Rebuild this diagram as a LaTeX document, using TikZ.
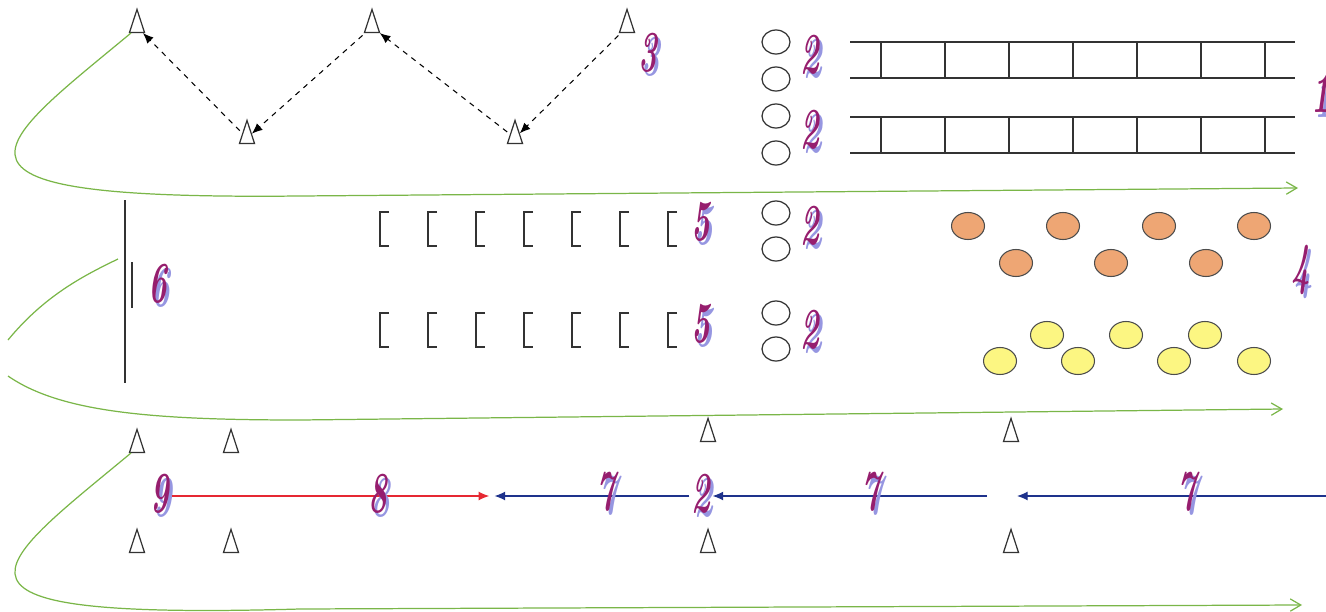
\documentclass[tikz,border=0pt]{standalone}
\usepackage{tikz}
\usepackage{graphicx}
\usetikzlibrary{positioning, shapes.geometric, arrows.meta}

\definecolor{numface}{RGB}{150,30,110}
\definecolor{numshadow}{RGB}{150,150,225}
\definecolor{route}{RGB}{122,182,72}
\definecolor{ballorange}{RGB}{238,166,116}
\definecolor{ballyellow}{RGB}{252,246,130}
\definecolor{passblue}{RGB}{30,50,140}
\definecolor{passred}{RGB}{230,40,50}

\newcommand{\drillnum}[1]{\scalebox{0.55}[1]{\rlap{\hspace{3pt}\raisebox{-2.5pt}{\color{numshadow}#1}}\color{numface}#1}}

\begin{document}
\begin{tikzpicture}[x=0.02cm,y=-0.02cm,
        cone/.style={isosceles triangle,shape border rotate=90,isosceles triangle stretches,draw=black!80,line width=0.7pt,inner sep=0pt,minimum width=0.3cm,minimum height=0.46cm},
        ring/.style={ellipse,draw=black!80,line width=0.7pt,inner sep=0pt,minimum width=0.56cm,minimum height=0.48cm},
        orangeball/.style={ellipse,draw=black!70,fill=ballorange,line width=0.6pt,inner sep=0pt,minimum width=0.66cm,minimum height=0.54cm},
        yellowball/.style={ellipse,draw=black!70,fill=ballyellow,line width=0.6pt,inner sep=0pt,minimum width=0.66cm,minimum height=0.54cm},
        num/.style={inner sep=1pt,font=\fontsize{33}{33}\selectfont\bfseries\itshape},
        runpath/.style={draw=route,line width=0.7pt,-{Straight Barb[length=6pt,width=7pt]}},
        hurdle/.style={draw=black!80,line width=0.6pt},
        ladder/.style={draw=black!80,line width=0.6pt}]
        \useasboundingbox (0,0) rectangle (1326,612);

        % zigzag
        \node[cone] (c1) at (137,27) {};
        \node[cone] (c2) at (247,138) {};
        \node[cone] (c3) at (372,27) {};
        \node[cone] (c4) at (515,138) {};
        \node[cone] (c5) at (627,27) {};
        \node[num] (n3) at (648,55) {\drillnum{3}};

        \path[dashed,-{Latex[length=6pt,width=5pt]},line width=0.6pt]
                  (c5) edge [shorten <=2pt] node []{} (c4)
                  (c4) edge [shorten <=2pt] node []{} (c3)
                  (c3) edge [shorten <=2pt] node []{} (c2)
                  (c2) edge [shorten <=2pt] node []{} (c1);

        % rings and ladders
        \node[ring] (r1) at (776,42) {};
        \node[ring] (r2) at (776,79) {};
        \node[ring] (r3) at (776,116) {};
        \node[ring] (r4) at (776,153) {};
        \node[ring] (r5) at (776,213) {};
        \node[ring] (r6) at (776,249) {};
        \node[ring] (r7) at (776,313) {};
        \node[ring] (r8) at (776,349) {};
        \node[num] (n2a) at (810,57) {\drillnum{2}};
        \node[num] (n2b) at (810,132) {\drillnum{2}};
        \node[num] (n2c) at (810,228) {\drillnum{2}};
        \node[num] (n2d) at (810,332) {\drillnum{2}};

        \foreach \y in {42,117} {
            \draw[ladder] (850,\y) -- (1295,\y) (850,\y+36) -- (1295,\y+36);
            \foreach \x in {881,945,...,1265}
                \draw[ladder] (\x,\y) -- (\x,\y+36);
        }
        \node[num] (n1) at (1321,96) {\drillnum{1}};

        % wall and hurdles
        \draw[line width=0.7pt,black!80] (125,200) -- (125,383);
        \draw[line width=0.7pt,black!80] (132,262) -- (132,308);
        \node[num] (n6) at (158,286) {\drillnum{6}};

        \foreach \y in {212,313}
            \foreach \x in {380,428,...,668}
                \draw[hurdle] (\x+9,\y) -- (\x,\y) -- (\x,\y+34) -- (\x+9,\y+34);
        \node[num] (n5a) at (701,224) {\drillnum{5}};
        \node[num] (n5b) at (701,326) {\drillnum{5}};

        % balls
        \foreach \x [count=\i] in {968,1063,1159,1254}
            \node[orangeball] (o\i) at (\x,226) {};
        \foreach \x [count=\i from 5] in {1016,1111,1206}
            \node[orangeball] (o\i) at (\x,263) {};
        \foreach \x [count=\i] in {1047,1126,1205}
            \node[yellowball] (y\i) at (\x,335) {};
        \foreach \x [count=\i from 4] in {1000,1078,1174,1254}
            \node[yellowball] (y\i) at (\x,361) {};
        \node[num] (n4) at (1301,272) {\drillnum{4}};

        % passing line
        \node[cone] (c6) at (137,447) {};
        \node[cone] (c7) at (231,447) {};
        \node[cone] (c8) at (137,547) {};
        \node[cone] (c9) at (231,547) {};
        \node[cone] (c10) at (708,436) {};
        \node[cone] (c11) at (708,547) {};
        \node[cone] (c12) at (1011,436) {};
        \node[cone] (c13) at (1011,547) {};

        \node[num] (n9) at (160,496) {\drillnum{9}};
        \node[num] (n2e) at (701,496) {\drillnum{2}};
        \coordinate (meet) at (491,496);
        \coordinate (gap) at (987,496);
        \coordinate (far) at (1326,496);
        \coordinate (gapend) at (1017,496);

        \path[-{Latex[length=6pt,width=5pt]},line width=0.6pt]
                  (n9)  edge [draw=passred,shorten >=1pt] node []{} (meet)
                  (n2e) edge [draw=passblue,shorten >=2pt] node []{} (meet)
                  (gap) edge [draw=passblue] node []{} (n2e)
                  (far) edge [draw=passblue] node []{} (gapend);

        \node[num] (n8) at (378,496) {\drillnum{8}};
        \node[num] (n7a) at (606,494) {\drillnum{7}};
        \node[num] (n7b) at (871,494) {\drillnum{7}};
        \node[num] (n7c) at (1187,494) {\drillnum{7}};

        % running routes
        \coordinate (g1) at (1298,188);
        \coordinate (g2a) at (8,340);
        \coordinate (g2b) at (118,259);
        \coordinate (g2c) at (8,376);
        \coordinate (g2) at (1283,409);
        \coordinate (g3) at (1302,605);

        \draw[runpath] (c1.south west) .. controls (-10,150) and (-90,200) .. (300,196) -- (g1);
        \draw[draw=route,line width=0.7pt] (g2a) .. controls (45,295) and (85,275) .. (g2b);
        \draw[runpath] (g2c) .. controls (60,412) and (150,420) .. (300,420) -- (g2);
        \draw[runpath] (c6.south west) .. controls (-10,570) and (-90,620) .. (300,609) -- (g3);
    \end{tikzpicture}
\end{document}
